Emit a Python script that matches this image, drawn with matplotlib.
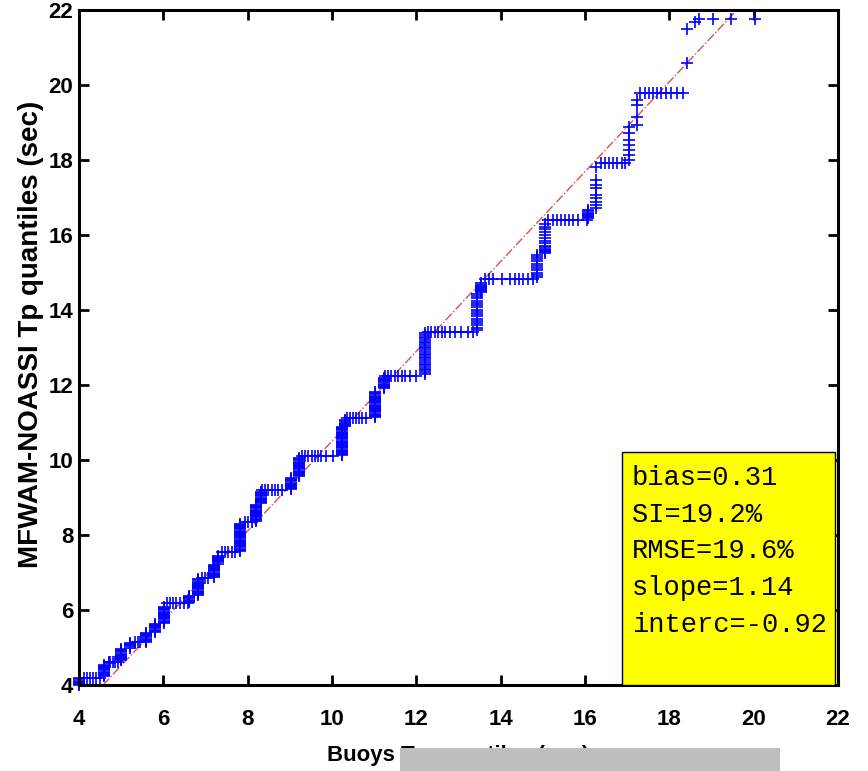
import matplotlib
matplotlib.use("Agg")
import matplotlib.pyplot as plt
from matplotlib.patches import Rectangle
import numpy as np

# quantile pairs: buoy Tp value -> model quantiles stacked on it
vertical_steps = [
    (4.00, [4.00, 4.03, 4.06, 4.09, 4.12, 4.15, 4.18]),
    (4.60, [4.24, 4.27, 4.30, 4.33, 4.36, 4.39, 4.42, 4.45, 4.48, 4.51, 4.54]),
    (4.70, [4.58, 4.61]),
    (5.00, [4.66, 4.69, 4.72, 4.75, 4.78, 4.81, 4.84, 4.87, 4.90, 4.93, 4.96]),
    (5.22, [5.00, 5.03, 5.06, 5.09, 5.12]),
    (5.60, [5.15, 5.18, 5.21, 5.24, 5.27, 5.30, 5.33, 5.36, 5.39]),
    (5.80, [5.42, 5.45, 5.48, 5.51, 5.54, 5.57, 5.60, 5.63]),
    (6.02, [5.66, 5.69, 5.72, 5.75, 5.78, 5.81, 5.84, 5.87, 5.90, 5.93, 5.96,
            5.99, 6.02, 6.05, 6.08]),
    (6.60, [6.22, 6.25, 6.28, 6.31, 6.34, 6.37]),
    (6.82, [6.40, 6.43, 6.46, 6.49, 6.52, 6.55, 6.58, 6.61, 6.64, 6.67, 6.70,
            6.73, 6.76, 6.79, 6.82]),
    (7.20, [6.88, 6.91, 6.94, 6.97, 7.00, 7.03, 7.06, 7.09, 7.12, 7.15, 7.18,
            7.21]),
    (7.30, [7.24, 7.27, 7.30, 7.33, 7.36, 7.39, 7.42, 7.45]),
    (7.82, [7.58, 7.61, 7.64, 7.67, 7.70, 7.73, 7.76, 7.79, 7.82, 7.85, 7.88,
            7.91, 7.94, 7.97, 8.00, 8.03, 8.06, 8.09, 8.12, 8.15, 8.18, 8.21,
            8.24, 8.27, 8.30]),
    (8.20, [8.38, 8.41, 8.44, 8.47, 8.50, 8.53, 8.56, 8.59, 8.62, 8.65, 8.68,
            8.71, 8.74, 8.77, 8.80]),
    (8.32, [8.85, 8.88, 8.91, 8.94, 8.97, 9.00, 9.03, 9.06, 9.09, 9.12, 9.15]),
    (9.03, [9.22, 9.25, 9.28, 9.31, 9.34, 9.37, 9.40, 9.43, 9.46, 9.49, 9.52]),
    (9.22, [9.57, 9.60, 9.63, 9.66, 9.69, 9.72, 9.75, 9.78, 9.81, 9.84, 9.87,
            9.90, 9.93, 9.96, 9.99, 10.02, 10.05]),
    (10.24, [10.13, 10.16, 10.19, 10.22, 10.25, 10.28, 10.31, 10.34, 10.37,
             10.40, 10.43, 10.46, 10.49, 10.52, 10.55, 10.58, 10.61, 10.64,
             10.67, 10.70, 10.73, 10.76, 10.79, 10.82, 10.85, 10.88]),
    (10.31, [10.91, 10.94, 10.97, 11.00, 11.03, 11.06]),
    (11.03, [11.15, 11.18, 11.21, 11.24, 11.27, 11.30, 11.33, 11.36, 11.39,
             11.42, 11.45, 11.48, 11.51, 11.54, 11.57, 11.60, 11.63, 11.66,
             11.69, 11.72, 11.75, 11.78, 11.81]),
    (11.23, [11.92, 11.95, 11.98, 12.01, 12.04, 12.07, 12.10, 12.13, 12.16,
             12.19]),
    (12.21, [12.30, 12.35, 12.39, 12.44, 12.48, 12.53, 12.57, 12.62, 12.66,
             12.71, 12.75, 12.80, 12.84, 12.89, 12.93, 12.98, 13.02, 13.07,
             13.11, 13.16, 13.20, 13.25, 13.29, 13.34, 13.38]),
    (13.44, [13.47, 13.53, 13.59, 13.65, 13.71, 13.77, 13.83, 13.89, 13.95,
             14.01, 14.07, 14.13, 14.19, 14.25, 14.31, 14.37, 14.43]),
    (13.53, [14.47, 14.50, 14.53, 14.56, 14.59, 14.62, 14.65, 14.68, 14.71]),
    (14.86, [14.88, 14.94, 15.00, 15.06, 15.12, 15.18, 15.24, 15.30, 15.36,
             15.42, 15.48]),
    (15.05, [15.52, 15.55, 15.58, 15.61, 15.64, 15.67, 15.70, 15.78, 15.85,
             15.92, 16.00, 16.08, 16.15, 16.22, 16.30]),
    (16.06, [16.45, 16.48, 16.51, 16.54, 16.57, 16.60, 16.63, 16.66]),
    (16.26, [16.72, 16.80, 16.88, 16.99, 17.07, 17.25, 17.33, 17.47, 17.81]),
    (17.05, [18.00, 18.13, 18.27, 18.40, 18.53, 18.72, 18.88]),
    (17.24, [18.93, 19.15, 19.47, 19.60]),
    (18.43, [20.58, 21.49]),
    (18.62, [21.69]),
]

# model Tp value -> buoy quantiles lying along it
horizontal_steps = [
    (4.20, [4.12, 4.19, 4.26, 4.33, 4.41, 4.50]),
    (4.62, [4.73, 4.80, 4.86, 4.92]),
    (5.14, [5.33, 5.39, 5.45]),
    (6.19, [6.09, 6.16, 6.23, 6.30, 6.40, 6.49, 6.58]),
    (6.85, [6.92, 6.99, 7.06]),
    (7.55, [7.39, 7.46, 7.54, 7.62, 7.70]),
    (8.35, [7.94, 8.02, 8.10]),
    (9.20, [8.34, 8.41, 8.48, 8.57, 8.65, 8.72, 8.81]),
    (10.10, [9.28, 9.36, 9.43, 9.52, 9.60, 9.67, 9.75, 9.87, 10.02]),
    (11.12, [10.36, 10.43, 10.50, 10.57, 10.64, 10.71, 10.80]),
    (12.25, [11.26, 11.33, 11.41, 11.49, 11.57, 11.65, 11.73, 11.85, 12.00]),
    (13.41, [12.28, 12.36, 12.44, 12.51, 12.60, 12.68, 12.79, 12.91, 13.07,
             13.22, 13.34]),
    (14.83, [13.63, 13.72, 13.81, 14.03, 14.22, 14.34, 14.43, 14.52, 14.65,
             14.77]),
    (16.40, [15.13, 15.23, 15.33, 15.43, 15.52, 15.63, 15.72, 15.83, 16.04]),
    (17.93, [16.37, 16.47, 16.57, 16.66, 16.76, 16.87, 16.96]),
    (19.78, [17.31, 17.42, 17.52, 17.62, 17.71, 17.81, 17.92, 18.04, 18.19,
             18.33]),
    (21.75, [18.71, 19.04, 19.46, 20.03]),
]

fit_x = [4.57, 19.6]
fit_y = [4.0, 22.0]

stats_text = ["bias=0.31", "SI=19.2%", "RMSE=19.6%", "slope=1.14",
              "interc=-0.92"]

ticks = [4, 6, 8, 10, 12, 14, 16, 18, 20, 22]

buoy_q = []
model_q = []
for xv, ys in vertical_steps:
    buoy_q += [xv] * len(ys)
    model_q += ys
for yv, xs in horizontal_steps:
    buoy_q += xs
    model_q += [yv] * len(xs)
buoy_q = np.array(buoy_q)
model_q = np.array(model_q)

plt.rcParams["font.family"] = ["Liberation Sans", "DejaVu Sans"]

fig = plt.figure(figsize=(8.68, 7.71), dpi=100)
ax = fig.add_axes([0.091, 0.1115, 0.8744, 0.8755])

ax.plot(fit_x, fit_y, linestyle="-.", color="#e05050", linewidth=1.0)
ax.plot(buoy_q, model_q, linestyle="none", marker="+", color="#0000ff",
        markersize=8.5, markeredgewidth=1.2, clip_on=False)

ax.set_xlim(4, 22)
ax.set_ylim(4, 22)
ax.set_xticks(ticks)
ax.set_yticks(ticks)
ax.tick_params(direction="in", length=7, width=2, top=True, right=True,
               labelsize=16)
ax.tick_params(axis="x", pad=17)
ax.tick_params(axis="y", pad=4)
for lab in ax.get_xticklabels() + ax.get_yticklabels():
    lab.set_fontweight("bold")
for sp in ax.spines.values():
    sp.set_linewidth(2.2)

ax.set_ylabel("MFWAM-NOASSI Tp quantiles (sec)", fontsize=20,
              fontweight="bold")
ax.yaxis.set_label_coords(-0.046, 0.52)
ax.set_xlabel("Buoys Tp quantiles (sec)", fontsize=16, fontweight="bold")
ax.xaxis.set_label_coords(0.5, -0.089)

# statistics panel in the lower right corner
ax.add_patch(Rectangle((0.716, 0.0), 0.28, 0.3456, transform=ax.transAxes,
                       facecolor="#ffff00", edgecolor="black", linewidth=1,
                       zorder=3))
for i, line in enumerate(stats_text):
    ax.text(0.7286, 0.307 - i * 0.0545, line, transform=ax.transAxes,
            fontsize=19.5, family="Liberation Mono", va="center", ha="left",
            zorder=4)

# grey strip over the lower part of the figure
fig.patches.append(Rectangle((400 / 868, 0), 380 / 868, 23 / 771,
                             transform=fig.transFigure, facecolor="#bebebe",
                             edgecolor="none", zorder=5))

fig.savefig("out.png", dpi=100)
